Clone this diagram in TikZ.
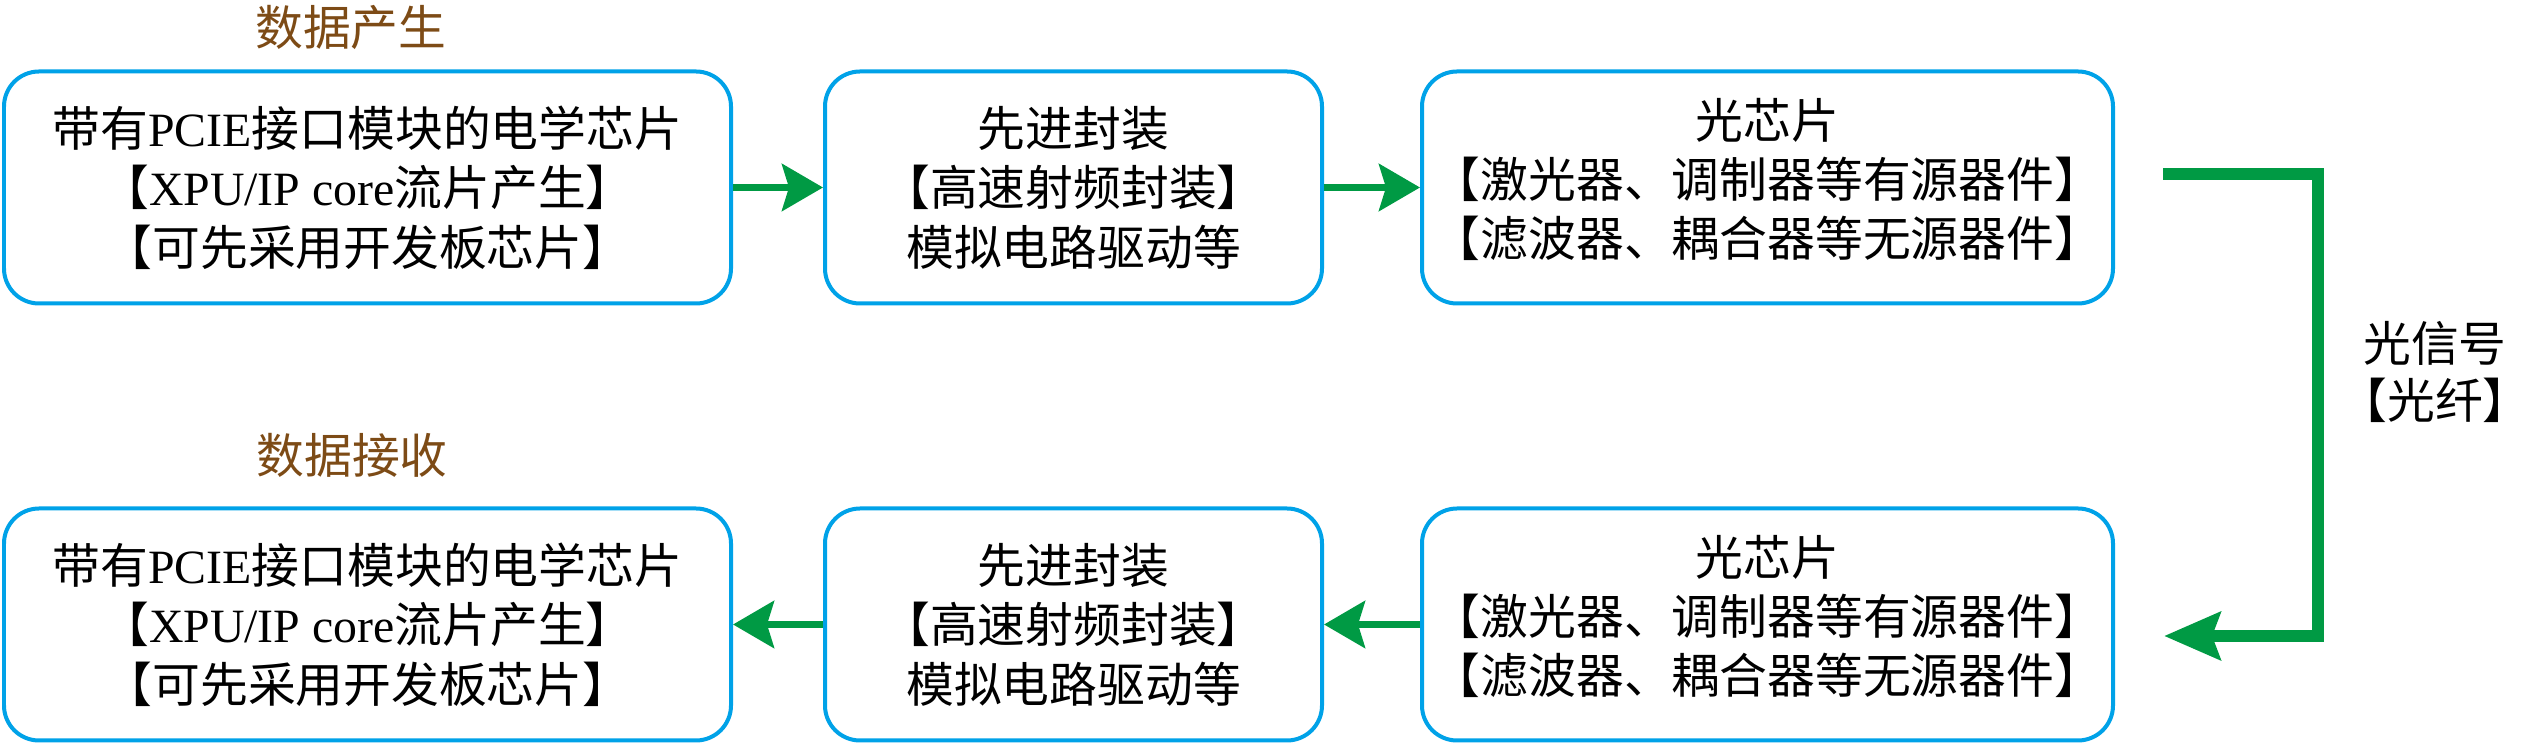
\documentclass[tikz,border=0pt]{standalone}
\usepackage{fontspec}
\setmainfont{Liberation Serif}
\newfontfamily\cjk{Noto Sans CJK SC}
\usepackage{xcolor}
\usepackage{tikz}
\usetikzlibrary{calc,arrows.meta,positioning}
\definecolor{edgec}{HTML}{00A2E8}
\definecolor{flowc}{HTML}{009A44}
\definecolor{titc}{HTML}{7D4B16}
\newcommand{\lat}[1]{{\rmfamily #1}}
\tikzset{
  box/.style={draw=edgec,line width=0.04cm,rounded corners=0.35cm,fill=white,align=center,font=\cjk\fontsize{13.6}{16.9}\selectfont,inner sep=0pt,minimum height=2.32cm},
  optbox/.style={box,minimum width=6.91cm,text depth=0.20cm},
  ar/.style={-{Stealth[length=0.41cm,width=0.47cm,inset=0.07cm]},line width=0.07cm,flowc},
  fib/.style={-{Stealth[length=0.56cm,width=0.47cm,inset=0.08cm]},line width=0.12cm,flowc},
  ttl/.style={font=\cjk\fontsize{13.6}{17}\selectfont,text=titc},
  side/.style={font=\cjk\fontsize{13.6}{16.3}\selectfont,align=center}
}

\begin{document}
\begin{tikzpicture}
\useasboundingbox (0,0) rectangle (25.36,7.45);
\node[box,minimum width=7.27cm] (t1) at (3.675,5.575) {带有\lat{PCIE}接口模块的电学芯片\\【\lat{XPU/IP core}流片产生】\\【可先采用开发板芯片】};
\node[box,minimum width=4.97cm,right=0.90cm of t1] (t2) {先进封装\\【高速射频封装】\\模拟电路驱动等};
\node[optbox,right=0.96cm of t2] (t3) {光芯片\\【激光器、调制器等有源器件】\\【滤波器、耦合器等无源器件】};
\node[box,minimum width=7.27cm,below=2.01cm of t1] (r1) {带有\lat{PCIE}接口模块的电学芯片\\【\lat{XPU/IP core}流片产生】\\【可先采用开发板芯片】};
\node[box,minimum width=4.97cm,below=2.01cm of t2] (r2) {先进封装\\【高速射频封装】\\模拟电路驱动等};
\node[optbox,below=2.01cm of t3] (r3) {光芯片\\【激光器、调制器等有源器件】\\【滤波器、耦合器等无源器件】};
\node[ttl] (gen) at (3.51,7.18) {数据产生};
\node[ttl] (rec) at (3.52,2.895) {数据接收};
\draw[ar] (t1) -- (t2);
\draw[ar] (t2) -- (t3);
\draw[ar] (r2) -- (r1);
\draw[ar] (r3) -- (r2);
\coordinate (fs) at ($(t3.east)+(0.48,0.13)$);
\coordinate (fe) at ($(r3.east)+(0.49,-0.115)$);
\draw[fib] (fs) -- ++(1.55,0) |- (fe);
\node[side] (sig) at (24.35,3.73) {光信号\\【光纤】};
\end{tikzpicture}
\end{document}
